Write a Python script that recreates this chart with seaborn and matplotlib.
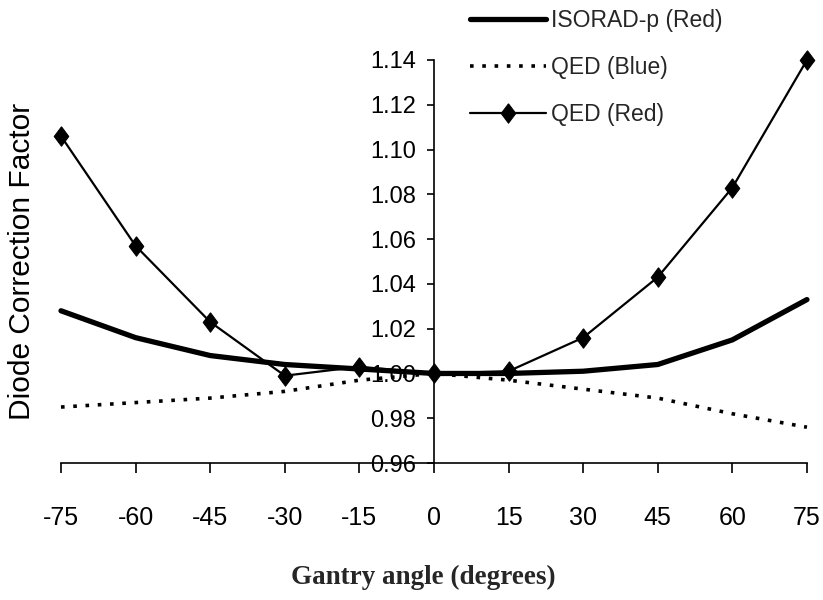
import numpy as np
import pandas as pd
import seaborn as sns
import matplotlib.pyplot as plt
from matplotlib.ticker import FormatStrFormatter

# ---- data ----
angles = [-75, -60, -45, -30, -15, 0, 15, 30, 45, 60, 75]
isorad_red = [1.028, 1.016, 1.008, 1.004, 1.002, 1.000, 1.000, 1.001, 1.004, 1.015, 1.033]
qed_blue = [0.985, 0.987, 0.989, 0.992, 0.997, 1.000, 0.997, 0.993, 0.989, 0.982, 0.976]
qed_red = [1.106, 1.057, 1.023, 0.999, 1.003, 1.000, 1.001, 1.016, 1.043, 1.083, 1.140]
y_ticks = [0.96, 0.98, 1.00, 1.02, 1.04, 1.06, 1.08, 1.10, 1.12, 1.14]

sns.set_style("ticks")
plt.rcParams["font.family"] = ["Liberation Sans", "DejaVu Sans"]
plt.rcParams["axes.unicode_minus"] = False

fig = plt.figure(figsize=(8.23, 6.0), dpi=100)
ax = fig.add_axes([0.0741, 0.2283, 0.9064, 0.6717])

tall_diamond = [(0, 1), (0.75, 0), (0, -1), (-0.75, 0), (0, 1)]

sns.lineplot(x=angles, y=isorad_red, ax=ax, color="black", linewidth=3.8,
             label="ISORAD-p (Red)", clip_on=False)
sns.lineplot(x=angles, y=qed_blue, ax=ax, color="black", linewidth=2.6,
             linestyle=(0, (1, 2.4)), label="QED (Blue)", clip_on=False)
sns.lineplot(x=angles, y=qed_red, ax=ax, color="black", linewidth=1.6,
             marker=tall_diamond, markersize=14, markeredgecolor="black",
             label="QED (Red)", clip_on=False)

ax.set_xlim(-75, 75)
ax.set_ylim(0.96, 1.14)
ax.set_xticks(angles)
ax.set_yticks(y_ticks)
ax.yaxis.set_major_formatter(FormatStrFormatter("%.2f"))

# y axis drawn through x = 0
ax.spines["left"].set_position(("data", 0))
ax.spines["top"].set_visible(False)
ax.spines["right"].set_visible(False)
for s in ["left", "bottom"]:
    ax.spines[s].set_linewidth(1.2)
    ax.spines[s].set_color("black")

ax.tick_params(axis="x", direction="out", length=7, width=1.2, pad=24,
               labelsize=18, colors="black")
ax.tick_params(axis="y", direction="out", length=5, width=1.2, pad=8,
               labelsize=17, colors="black")

ax.set_xlabel("")
ax.set_ylabel("Diode Correction Factor", fontsize=21.5, color="black")
ax.yaxis.set_label_coords(-0.033, 0.5, transform=ax.transAxes)

fig.text(0.514, 0.038, "Gantry angle (degrees)", ha="center", va="center",
         fontsize=19.5, fontweight="bold", family=["Liberation Serif", "DejaVu Serif"])

ax.get_legend().remove()
handles, labels = ax.get_legend_handles_labels()
fig.legend(handles, labels, loc="upper left", bbox_to_anchor=(470 / 823, 1 - 9 / 600),
           frameon=False, fontsize=16.5, borderpad=0, borderaxespad=0,
           handlelength=3.3, handletextpad=0.25, labelspacing=1.05)

fig.savefig("out.png", dpi=100)
